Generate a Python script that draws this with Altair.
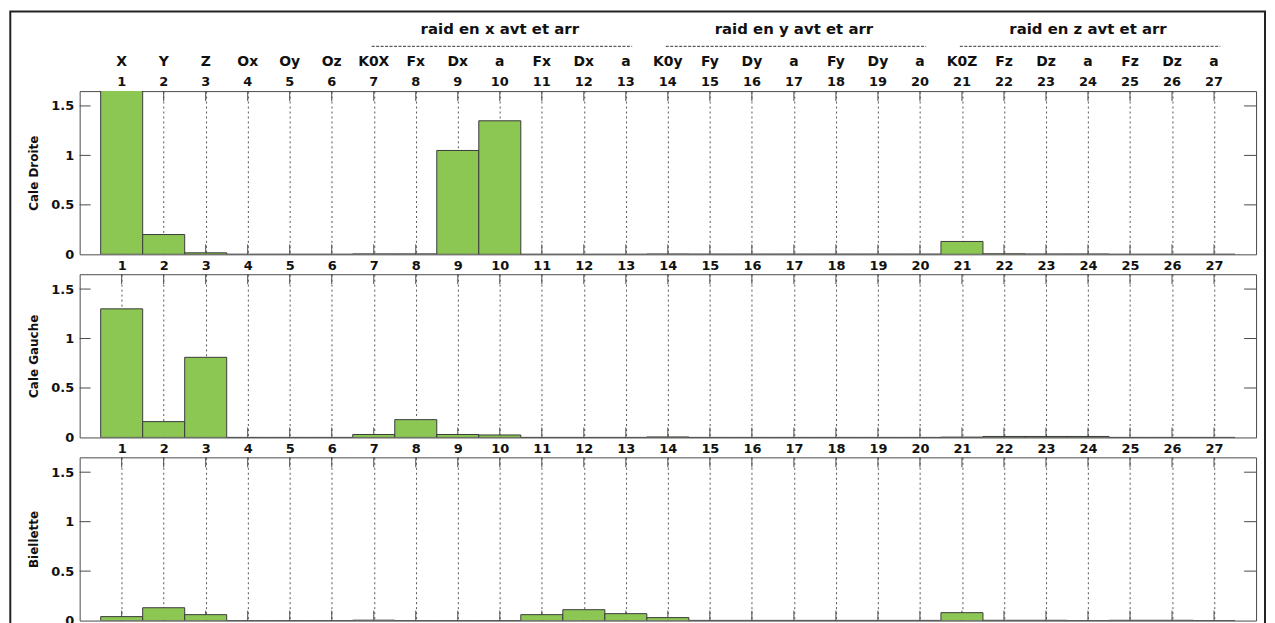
import altair as alt
import pandas as pd

# ---------------- data ----------------
idx = list(range(1, 28))
names = ["X", "Y", "Z", "Ox", "Oy", "Oz", "K0X", "Fx", "Dx", "a", "Fx", "Dx", "a",
         "K0y", "Fy", "Dy", "a", "Fy", "Dy", "a", "K0Z", "Fz", "Dz", "a", "Fz", "Dz", "a"]

cale_droite = [1.70, 0.20, 0.015, 0, 0, 0, 0.004, 0.004, 1.05, 1.35, 0, 0, 0,
               0.003, 0.002, 0.002, 0.002, 0.002, 0.002, 0.002,
               0.13, 0.005, 0.003, 0.003, 0, 0, 0]
cale_gauche = [1.30, 0.16, 0.81, 0, 0, 0, 0.03, 0.18, 0.03, 0.025, 0, 0, 0,
               0.005, 0, 0, 0, 0, 0, 0,
               0.003, 0.01, 0.01, 0.01, 0, 0, 0]
biellette = [0.04, 0.13, 0.06, 0, 0, 0, 0.004, 0, 0, 0, 0.06, 0.11, 0.07,
             0.03, 0.002, 0.002, 0.002, 0.002, 0.002, 0.002,
             0.08, 0.003, 0.003, 0, 0.003, 0.003, 0]

panel_titles = ["Cale Droite", "Cale Gauche", "Biellette"]
group_labels = ["raid en x avt et arr", "raid en y avt et arr", "raid en z avt et arr"]
group_start = [7, 14, 21]
group_end = [13, 20, 27]
y_ticks = [0, 0.5, 1, 1.5]

# ---------------- style ----------------
W, H = 1182, 164
FONT = "DejaVu Sans"
BAR = "#8cc653"
EDGE = "#3a3a3a"
FRAME = "#4a4a4a"
TXT = "#111111"

x_scale = alt.Scale(domain=[0, 28], nice=False, zero=False)
y_scale = alt.Scale(domain=[0, 1.65], nice=False, zero=True)


def make_panel(values, title, top=False, bottom_labels=True):
    df = pd.DataFrame({"idx": idx, "name": names, "value": values})
    ydf = pd.DataFrame({"v": y_ticks[1:]})

    xaxis = alt.Axis(values=idx, grid=True, gridDash=[2, 3], gridColor="#555555",
                     gridWidth=1, ticks=False, domain=False, labels=bottom_labels,
                     labelFont=FONT, labelFontWeight="bold", labelFontSize=13,
                     labelColor=TXT, labelPadding=5, labelFlush=False,
                     labelOverlap=False, title=None)
    yaxis = alt.Axis(values=y_ticks, format="~g", grid=False, ticks=False, domain=False,
                     labelFont=FONT, labelFontWeight="bold", labelFontSize=13,
                     labelColor=TXT, labelPadding=6, title=title, titleFont=FONT,
                     titleFontSize=12, titleFontWeight="bold", titleColor=TXT,
                     titlePadding=10)

    base = alt.Chart(df)
    bticks = base.mark_rule(color=FRAME, strokeWidth=1).encode(
        x=alt.X("idx:Q", scale=x_scale, axis=xaxis), y=alt.value(H), y2=alt.value(H - 10))
    tticks = base.mark_rule(color=FRAME, strokeWidth=1).encode(
        x=alt.X("idx:Q", scale=x_scale, axis=xaxis), y=alt.value(0), y2=alt.value(10))
    lticks = alt.Chart(ydf).mark_rule(color=FRAME, strokeWidth=1).encode(
        y=alt.Y("v:Q", scale=y_scale, axis=yaxis), x=alt.value(0), x2=alt.value(11))
    rticks = alt.Chart(ydf).mark_rule(color=FRAME, strokeWidth=1).encode(
        y=alt.Y("v:Q", scale=y_scale, axis=yaxis), x=alt.value(W - 12), x2=alt.value(W))
    bars = base.transform_calculate(
        x0="datum.idx - 0.5", x1="datum.idx + 0.5"
    ).mark_bar(fill=BAR, stroke=EDGE, strokeWidth=1, clip=True).encode(
        x=alt.X("x0:Q", scale=x_scale, axis=xaxis),
        x2="x1:Q",
        y=alt.Y("value:Q", scale=y_scale, axis=yaxis),
        y2=alt.datum(0),
    )
    layers = [bticks, tticks, lticks, rticks, bars]

    if top:
        nums = base.mark_text(font=FONT, fontWeight="bold", fontSize=13, color=TXT,
                              baseline="middle").encode(
            x=alt.X("idx:Q", scale=x_scale, axis=xaxis), y=alt.value(-9), text="idx:N")
        labs = base.mark_text(font=FONT, fontWeight="bold", fontSize=14, color=TXT,
                              baseline="middle").encode(
            x=alt.X("idx:Q", scale=x_scale, axis=xaxis), y=alt.value(-29), text="name:N")
        gdf = pd.DataFrame({"label": group_labels, "start": group_start, "end": group_end})
        gbase = alt.Chart(gdf).transform_calculate(
            mid="(datum.start + datum.end) / 2",
            s="datum.start - 0.05",
            e="datum.end + 0.15",
        )
        heads = gbase.mark_text(font=FONT, fontWeight="bold", fontSize=15, color=TXT,
                                baseline="middle").encode(
            x=alt.X("mid:Q", scale=x_scale, axis=xaxis), y=alt.value(-62), text="label:N")
        dashes = gbase.mark_rule(color="#333333", strokeWidth=1, strokeDash=[3, 1.5]).encode(
            x=alt.X("s:Q", scale=x_scale, axis=xaxis), x2="e:Q", y=alt.value(-45))
        frame = alt.Chart(pd.DataFrame({"k": [0]})).mark_rect(
            fillOpacity=0, stroke="#222222", strokeWidth=2).encode(
            x=alt.value(-69.7), x2=alt.value(1191), y=alt.value(-80), y2=alt.value(545))
        layers += [nums, labs, heads, dashes, frame]

    return alt.layer(*layers).properties(width=W, height=H)


p1 = make_panel(cale_droite, panel_titles[0], top=True)
p2 = make_panel(cale_gauche, panel_titles[1])
p3 = make_panel(biellette, panel_titles[2], bottom_labels=False)

chart = alt.vconcat(p1, p2, p3, spacing=20, bounds="flush").properties(
    padding=0, background="white"
).configure_view(stroke=FRAME, strokeWidth=1)

chart.save("out.html", embed_options={"renderer": "svg", "actions": False})
